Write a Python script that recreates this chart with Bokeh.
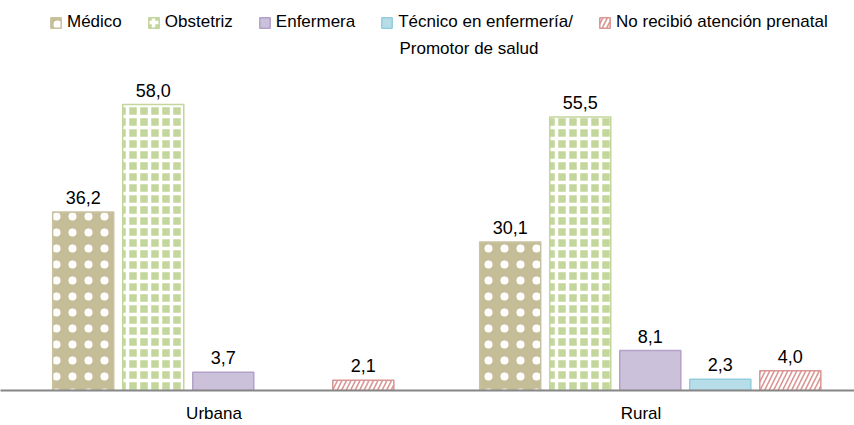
from bokeh.plotting import figure
from bokeh.models import ColumnDataSource, FactorRange, Range1d, LabelSet, Legend, Label
from bokeh.core.properties import value
from bokeh.transform import dodge
from bokeh.embed import file_html
from bokeh.resources import INLINE
import math

# ---- data ----
categories = ["Urbana", "Rural"]
series_names = ["Médico", "Obstetriz", "Enfermera",
                "Técnico en enfermería/\nPromotor de salud",
                "No recibió atención prenatal"]
medico = [36.2, 30.1]
obstetriz = [58.0, 55.5]
enfermera = [3.7, 8.1]
tecnico = [float("nan"), 2.3]
no_atencion = [2.1, 4.0]
all_values = [medico, obstetriz, enfermera, tecnico, no_atencion]

FONT = "Liberation Sans"

styles = [
    dict(fill_color="#C4BD97", line_color="#C9C3A2", hatch_pattern="dot", hatch_color="white", hatch_scale=16, hatch_weight=4),
    dict(fill_color="#C3D69B", line_color="#C3D69B", hatch_pattern="cross", hatch_color="white", hatch_scale=11, hatch_weight=3.5),
    dict(fill_color="#CCC1DA", line_color="#B3A2C7"),
    dict(fill_color="#B7DEE8", line_color="#93CDDD"),
    dict(fill_color="#D99694", line_color="#D99694", hatch_pattern="right_diagonal_line", hatch_color="white", hatch_scale=9, hatch_weight=2.5),
]

p = figure(width=854, height=425, x_range=FactorRange(*categories, range_padding=0),
           y_range=Range1d(0, 78.7), output_backend="svg", toolbar_location=None,
           y_axis_location=None, min_border_left=0, min_border_right=0,
           min_border_top=2, min_border_bottom=0)
p.outline_line_color = None
p.xgrid.visible = False
p.ygrid.visible = False

stride = 0.164
shift = 0.0217
bar_w = 0.143

items = []
extra_lines = []
for i, (name, vals, st) in enumerate(zip(series_names, all_values, styles)):
    labels = ["" if math.isnan(v) else f"{v:.1f}".replace(".", ",") for v in vals]
    src = ColumnDataSource(dict(cat=categories, val=vals, lab=labels))
    off = (i - 2) * stride + shift
    r = p.vbar(x=dodge("cat", off, range=p.x_range), top="val", width=bar_w,
               source=src, line_width=1.5, **st)
    lines = name.split("\n")
    items.append((lines[0], [r]))
    extra_lines.append(lines[1:])
    ls = LabelSet(x=dodge("cat", off, range=p.x_range), y="val", text="lab", source=src,
                  y_offset=8, text_align="center", text_baseline="alphabetic",
                  text_font=value(FONT), text_font_size=value("18px"), text_color="#000000")
    p.add_layout(ls)

legend = Legend(items=items, orientation="horizontal", location=(49, 358),
                glyph_width=13, glyph_height=13, label_standoff=5, spacing=25,
                padding=0, margin=0, border_line_alpha=0, background_fill_alpha=0,
                label_text_font=FONT, label_text_font_size="17px",
                label_text_color="#000000")
p.add_layout(legend)

# second line of the wrapped legend entry
for txt in extra_lines[3]:
    p.add_layout(Label(x=399, y=342, x_units="screen", y_units="screen", text=txt,
                       text_font=FONT, text_font_size="17px", text_color="#000000",
                       text_baseline="middle", text_align="left"))

ax = p.xaxis[0]
ax.axis_line_color = "#868686"
ax.axis_line_width = 2
ax.major_tick_line_color = None
ax.minor_tick_line_color = None
ax.major_label_standoff = 7
ax.major_label_text_font = FONT
ax.major_label_text_font_size = "17px"
ax.major_label_text_color = "#000000"

open("out.html", "w").write(file_html(p, INLINE))
